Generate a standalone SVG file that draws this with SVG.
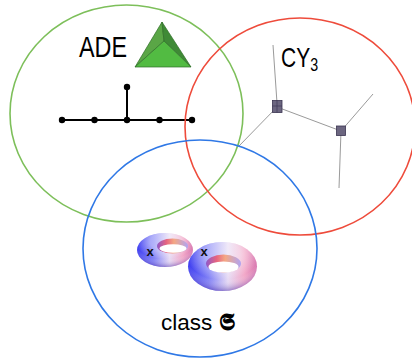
<svg xmlns="http://www.w3.org/2000/svg" width="412" height="360" viewBox="0 0 412 360">
<style>
.ring{fill:none;stroke-width:1.6}
.lbl{font-family:"Liberation Sans",Arial,sans-serif;fill:#000}
.dyn{stroke:#000;stroke-width:2;fill:none}
.dot{fill:#000}
.cyl{stroke:#9a9a9a;stroke-width:1;fill:none}
.cube{fill:#6c6680;stroke:#3a3450;stroke-width:0.8}
.xm{font-family:"Liberation Sans",Arial,sans-serif;font-weight:bold;font-size:13px;fill:#111}
</style>
<defs>
<linearGradient id="tb" x1="0" y1="0" x2="1" y2="0">
<stop offset="0" stop-color="#3c3cf0"/>
<stop offset="0.3" stop-color="#8080f6"/>
<stop offset="0.58" stop-color="#e6daf4"/>
<stop offset="0.82" stop-color="#f2a8c8"/>
<stop offset="1" stop-color="#d878b0"/>
</linearGradient>
<radialGradient id="shade" cx="0.5" cy="0.25" r="0.75">
<stop offset="0.35" stop-color="#ffffff" stop-opacity="0.4"/>
<stop offset="0.7" stop-color="#ffffff" stop-opacity="0"/>
<stop offset="1" stop-color="#4020a0" stop-opacity="0.45"/>
</radialGradient>
<linearGradient id="wall" x1="0" y1="0" x2="1" y2="0">
<stop offset="0" stop-color="#9058c8"/>
<stop offset="0.3" stop-color="#e66480"/>
<stop offset="0.55" stop-color="#f4a884"/>
<stop offset="1" stop-color="#b0a4f2"/>
</linearGradient>
</defs>
<rect width="412" height="360" fill="#fff"/>

<g id="ade">
<ellipse class="ring" cx="126.5" cy="113.5" rx="116.5" ry="108.5" stroke="#7dbf5a"/>
<text class="lbl" x="79" y="57" font-size="29" textLength="48" lengthAdjust="spacingAndGlyphs">ADE</text>
<g id="pyramid" stroke="#2f6e28" stroke-width="0.7" stroke-linejoin="round">
<polygon points="162,22 135,67 164,41" fill="#5aa646"/>
<polygon points="162,22 164,41 191,67" fill="#3f8a36"/>
<polygon points="135,67 164,41 191,67" fill="#52bb42"/>
</g>
<g id="dynkin">
<line class="dyn" x1="62" y1="120" x2="192" y2="120"/>
<line class="dyn" x1="127" y1="120" x2="127" y2="87"/>
<circle class="dot" cx="62" cy="120" r="3.2"/>
<circle class="dot" cx="94.5" cy="120" r="3.2"/>
<circle class="dot" cx="127" cy="120" r="3.2"/>
<circle class="dot" cx="159.5" cy="120" r="3.2"/>
<circle class="dot" cx="192" cy="120" r="3.2"/>
<circle class="dot" cx="127" cy="87" r="3.2"/>
</g>
</g>

<g id="cy3">
<ellipse class="ring" cx="300" cy="126.5" rx="115" ry="108.5" stroke="#ee4b3b"/>
<text class="lbl" transform="translate(281 67) scale(0.75 1)" font-size="28">CY<tspan font-size="19" dy="4">3</tspan></text>
<g id="web">
<line class="cyl" x1="273" y1="45" x2="277" y2="103"/>
<line class="cyl" x1="277" y1="107" x2="239" y2="146"/>
<line class="cyl" x1="277" y1="107" x2="341" y2="131"/>
<line class="cyl" x1="341" y1="131" x2="373" y2="94"/>
<line class="cyl" x1="341" y1="131" x2="339" y2="188"/>
<rect class="cube" x="272.5" y="100.5" width="9.5" height="12"/>
<line stroke="#3a3450" stroke-width="0.6" x1="272.5" y1="106" x2="282" y2="106"/>
<line stroke="#3a3450" stroke-width="0.6" x1="277" y1="100.5" x2="277" y2="112.5"/>
<rect class="cube" x="336.5" y="126" width="9" height="9.5"/>
</g>
</g>

<g id="class-s">
<ellipse class="ring" cx="200" cy="248.5" rx="117" ry="108.5" stroke="#2f78e6"/>
<g id="tori">
<ellipse cx="165" cy="250" rx="28" ry="17" fill="url(#tb)"/>
<ellipse cx="165" cy="250" rx="28" ry="17" fill="url(#shade)"/>
<ellipse cx="172.5" cy="246" rx="15.5" ry="7.5" fill="url(#wall)"/>
<ellipse cx="173" cy="248.5" rx="13.5" ry="4.2" fill="#fff"/>
<ellipse cx="222.5" cy="266.5" rx="34.5" ry="24.5" fill="url(#tb)"/>
<ellipse cx="222.5" cy="266.5" rx="34.5" ry="24.5" fill="url(#shade)"/>
<ellipse cx="223.5" cy="263.5" rx="17.5" ry="9" fill="url(#wall)"/>
<ellipse cx="223.5" cy="267" rx="15" ry="5.6" fill="#fff"/>
<text class="xm" x="150" y="256" text-anchor="middle">x</text>
<text class="xm" x="204" y="256" text-anchor="middle">x</text>
</g>
<text class="lbl" x="161" y="330" font-size="22.5">class <tspan font-family="'DejaVu Serif','Noto Sans',serif" font-weight="bold" font-size="24">𝕾</tspan></text>
</g>
</svg>
